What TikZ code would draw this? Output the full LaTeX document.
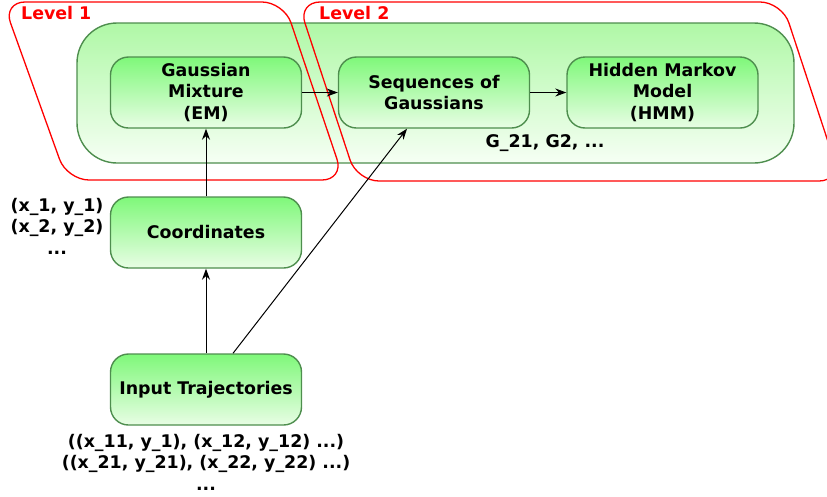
\documentclass[tikz,border=0pt]{standalone}
\usepackage{fontspec}
\setmainfont{DejaVu Sans}
\usepackage{tikz}
\usetikzlibrary{arrows.meta,positioning}

\definecolor{boxline}{HTML}{4E8E4E}
\definecolor{boxtop}{HTML}{7FF87A}
\definecolor{boxbot}{HTML}{E8FDE4}
\definecolor{grptop}{HTML}{AFF8A6}
\definecolor{grpbot}{HTML}{F6FFF4}

\newcommand{\lblfont}{\fontsize{17.4}{21.5}\selectfont\bfseries}

\tikzset{
	stage/.style={draw=boxline,line width=1.4pt,rounded corners=18pt,top color=boxtop,bottom color=boxbot,
		minimum width=191pt,minimum height=71pt,align=center,font=\lblfont},
	group/.style={draw=boxline,line width=1.4pt,rounded corners=40pt,top color=grptop,bottom color=grpbot},
	level/.style={draw=red,line width=1.3pt,rounded corners=22pt},
	flow/.style={-{Stealth[length=11pt,width=8pt]},line width=1pt},
	note/.style={align=center,font=\lblfont}
}

\begin{document}
\begin{tikzpicture}[x=1pt,y=-1pt,every node/.style={inner sep=0pt}]
\clip (0,0) rectangle (827,496);
% background group
\path[group] (77,23) rectangle (794,163);
% levels
\draw[level] (3,2) -- (284,2) -- (344,180) -- (67,180) -- cycle;
\draw[level] (298,2) -- (782,2) -- (841,181) -- (357,181) -- cycle;
\node[anchor=west,text=red,font=\lblfont] (lvla) at (21,13) {Level 1};
\node[anchor=west,text=red,font=\lblfont] (lvlb) at (319,13) {Level 2};

\node[stage] (gmm) at (206,92.5) {Gaussian\\Mixture\\(EM)};
\node[stage] (seq) at (434,92.5) {Sequences of\\Gaussians};
\node[stage] (hmm) at (662.5,92.5) {Hidden Markov\\Model\\(HMM)};
\node[note] (glist) at (545,143) {G\_21, G2, ...};

\node[stage] (coord) at (206,232.5) {Coordinates};
\node[stage] (inp) at (206,389.5) {Input Trajectories};
\node[note] (clist) at (57,226) {(x\_1, y\_1)\\(x\_2, y\_2)\\...};
\node[note] (tlist) at (206,462) {((x\_11, y\_1), (x\_12, y\_12) ...)\\((x\_21, y\_21), (x\_22, y\_22) ...)\\...};

\draw[flow] (gmm) -- (seq);
\draw[flow] (seq) -- (hmm);
\draw[flow] (coord) -- (gmm);
\draw[flow] (inp) -- (coord);
\draw[flow] ([xshift=27pt]inp.north) -- ([xshift=-27pt]seq.south);
\end{tikzpicture}
\end{document}
